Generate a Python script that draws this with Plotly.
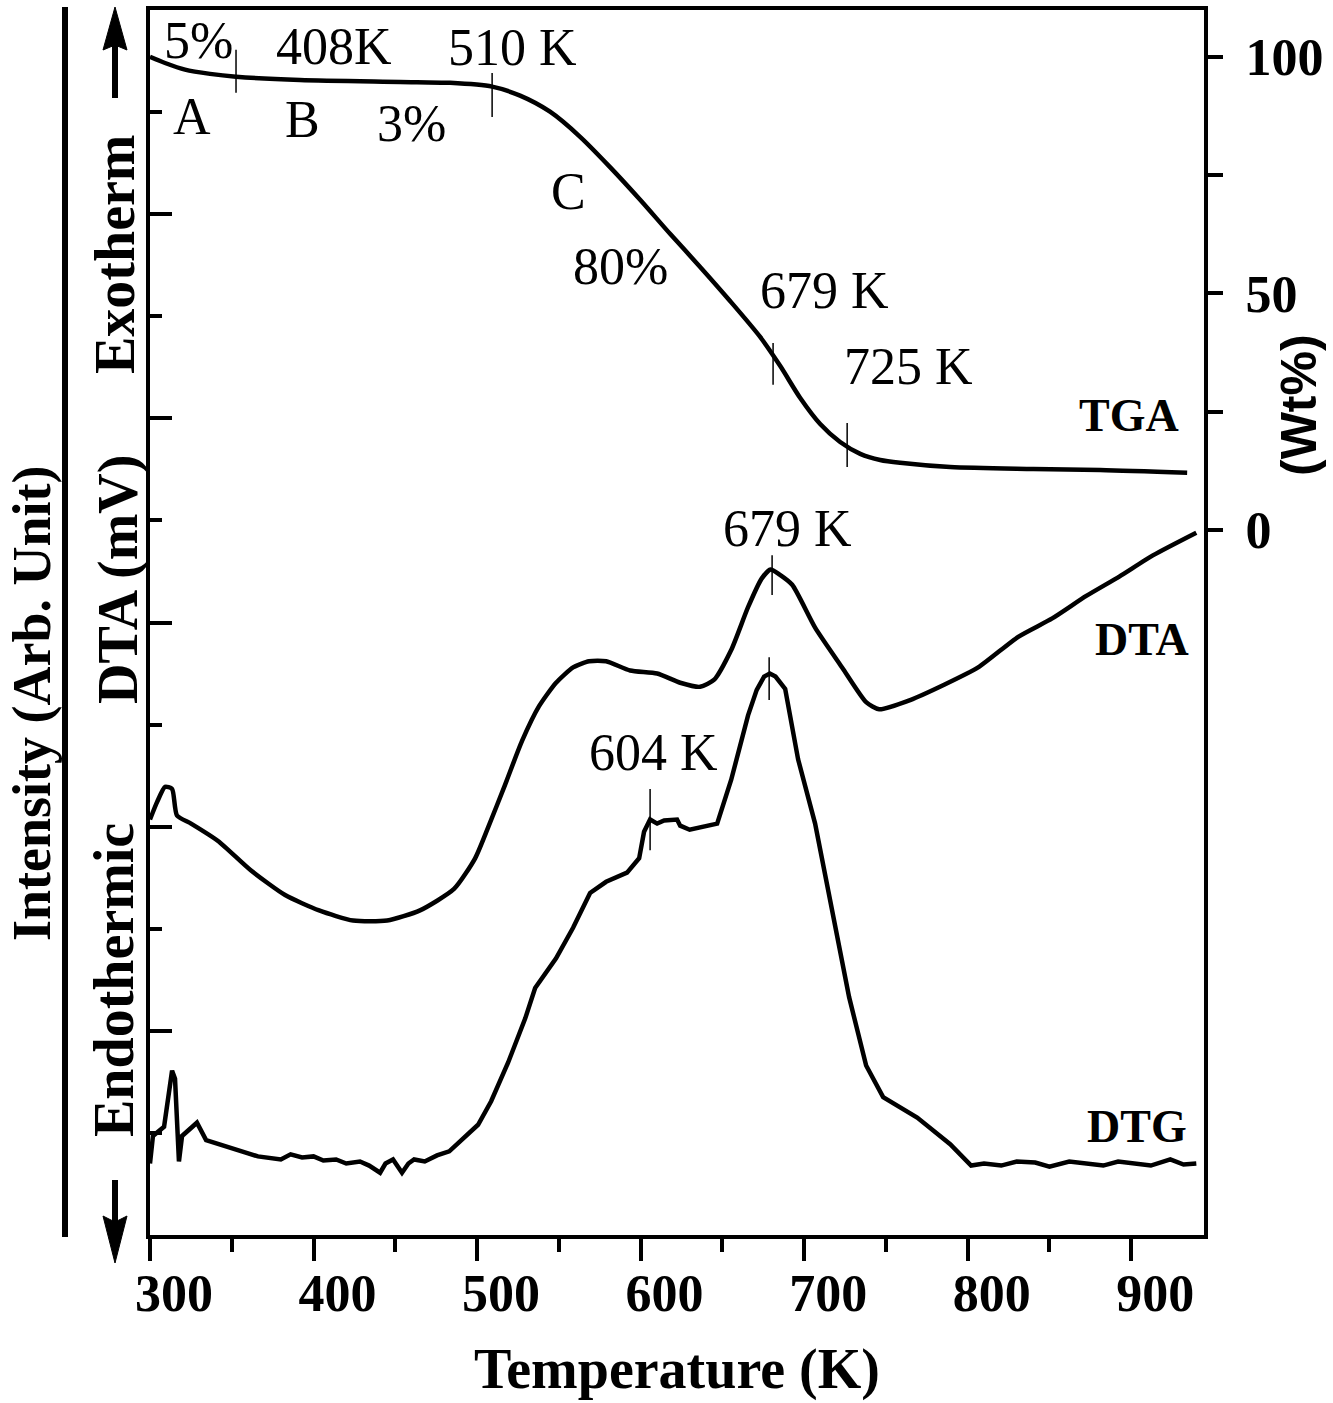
import plotly.graph_objects as go

# ---------------- data ----------------
tga_T = [300.0, 309.2, 321.4, 336.7, 352.6, 391.7, 452.9, 483.5, 509.2, 526.3, 544.6,
         563.0, 581.3, 599.7, 618.0, 636.4, 654.7, 673.1, 685.3, 697.6, 709.8, 722.0,
         734.3, 746.5, 758.7, 789.3, 840.1, 881.0, 934.2]
tga_wt = [100.0, 98.7, 97.3, 96.4, 95.8, 95.1, 94.7, 94.5, 93.7, 91.8, 88.4,
          83.1, 76.7, 69.8, 62.6, 55.6, 48.4, 40.8, 34.7, 27.9, 22.4, 18.6,
          16.1, 14.8, 14.2, 13.3, 12.9, 12.7, 12.1]

dta_T = [300.0, 304.3, 309.2, 313.5, 316.5, 325.1, 341.6, 361.8, 382.6, 403.4, 424.2,
         445.0, 465.1, 485.9, 498.8, 506.7, 517.1, 527.5, 537.9, 548.3, 558.7, 568.5,
         578.9, 593.6, 610.1, 624.2, 636.4, 645.0, 655.4, 665.7, 674.0, 679.5, 685.0,
         692.7, 706.7, 723.2, 737.9, 745.9, 764.8, 785.6, 806.4, 830.9, 851.7, 872.5,
         892.7, 913.5, 939.8]
dta_v = [4.07, 4.24, 4.39, 4.37, 4.11, 4.03, 3.86, 3.57, 3.33, 3.18, 3.08,
         3.08, 3.18, 3.39, 3.69, 3.99, 4.41, 4.84, 5.18, 5.41, 5.56, 5.62,
         5.62, 5.53, 5.50, 5.41, 5.37, 5.44, 5.73, 6.15, 6.43, 6.52, 6.47,
         6.37, 5.95, 5.56, 5.22, 5.15, 5.24, 5.39, 5.56, 5.86, 6.04, 6.26,
         6.45, 6.66, 6.88]

dtg_T = [300.0, 301.8, 308.6, 313.5, 315.3, 317.7, 319.6, 328.7, 334.3, 345.0, 352.0,
         360.0, 366.0, 372.2, 380.0, 386.0, 393.0, 400.0, 406.0, 413.8, 420.0, 428.4,
         434.0, 440.7, 444.0, 448.6, 454.1, 458.0, 461.5, 468.0, 475.5, 483.0, 490.2,
         500.6, 508.6, 519.0, 529.4, 535.5, 548.3, 558.7, 569.1, 578.9, 591.7, 599.1,
         602.1, 605.8, 610.1, 614.4, 622.3, 624.2, 630.0, 636.4, 646.8, 655.4, 665.7,
         671.0, 675.5, 679.0, 682.5, 688.4, 696.3, 706.7, 717.1, 727.5, 737.9, 748.3,
         769.1, 789.3, 802.1, 810.0, 820.5, 830.0, 841.3, 850.0, 862.1, 872.0, 882.9,
         892.0, 903.1, 912.0, 923.9, 932.0, 939.8]
dtg_v = [0.70, 0.97, 1.06, 1.61, 1.53, 0.72, 0.97, 1.10, 0.93, 0.88, 0.84,
         0.80, 0.77, 0.76, 0.74, 0.79, 0.76, 0.77, 0.73, 0.74, 0.70, 0.72,
         0.68, 0.61, 0.70, 0.74, 0.61, 0.70, 0.74, 0.72, 0.78, 0.82, 0.93,
         1.08, 1.31, 1.69, 2.12, 2.42, 2.71, 3.01, 3.35, 3.46, 3.55, 3.69,
         3.95, 4.07, 4.03, 4.06, 4.07, 4.01, 3.97, 3.99, 4.03, 4.46, 5.09,
         5.34, 5.47, 5.50, 5.47, 5.35, 4.66, 4.03, 3.18, 2.33, 1.66, 1.35,
         1.15, 0.89, 0.68, 0.70, 0.68, 0.72, 0.71, 0.67, 0.72, 0.70, 0.68,
         0.72, 0.70, 0.68, 0.74, 0.69, 0.70]

x_ticks = [300, 400, 500, 600, 700, 800, 900]
wt_ticks = [0, 25, 50, 75, 100]
wt_labels = ["0", "", "50", "", "100"]

# marker tick lines: (T, y_from, y_to, axis)
markers = [(352.6, 101.5, 92.4, "y2"), (509.2, 96.6, 87.3, "y2"),
           (681.0, 39.5, 30.7, "y2"), (726.3, 22.6, 13.3, "y2"),
           (680.4, 6.66, 6.27, "y"), (678.6, 5.66, 5.24, "y"),
           (605.8, 4.37, 3.77, "y")]

# text labels: (text, T, y, axis)
labels = [("5%", 329.4, 103.4, "y2"), ("408K", 412.5, 102.1, "y2"),
          ("510 K", 521.4, 101.9, "y2"), ("A", 325.7, 87.3, "y2"),
          ("B", 393.0, 86.7, "y2"), ("3%", 459.6, 86.0, "y2"),
          ("C", 555.7, 71.5, "y2"), ("80%", 587.5, 55.6, "y2"),
          ("679 K", 712.2, 50.7, "y2"), ("725 K", 763.6, 34.5, "y2"),
          ("679 K", 689.6, 6.92, "y"), ("604 K", 607.6, 4.73, "y")]
curve_names = [("TGA", 898.8, 24.1, "y2"), ("DTA", 906.7, 5.83, "y"),
               ("DTG", 903.7, 1.06, "y")]

SERIF = "Liberation Serif"
SANS = "Liberation Sans"

W, H = 1333, 1403
L, R, T, B = 150, 1204, 10, 1235


def px(xp):
    return (xp - L) / (R - L)


def py(yp):
    return (B - yp) / (B - T)


fig = go.Figure()
fig.add_trace(go.Scatter(x=tga_T, y=tga_wt, yaxis="y2", mode="lines",
                         line=dict(color="black", width=4.5, shape="spline", smoothing=0.8)))
fig.add_trace(go.Scatter(x=dta_T, y=dta_v, mode="lines",
                         line=dict(color="black", width=4.5, shape="spline", smoothing=0.6)))
fig.add_trace(go.Scatter(x=dtg_T, y=dtg_v, mode="lines",
                         line=dict(color="black", width=4.5)))

shapes = []
for t, y0, y1, ax in markers:
    shapes.append(dict(type="line", xref="x", yref=ax, x0=t, x1=t, y0=y0, y1=y1,
                       line=dict(color="black", width=1.5)))

# outer vertical line
shapes.append(dict(type="line", xref="paper", yref="paper", x0=px(65), x1=px(65),
                   y0=py(7), y1=py(1237), line=dict(color="black", width=6)))
# up arrow
shapes.append(dict(type="line", xref="paper", yref="paper", x0=px(115), x1=px(115),
                   y0=py(98), y1=py(40), line=dict(color="black", width=6)))
shapes.append(dict(type="path", xref="paper", yref="paper",
                   path=f"M {px(115)} {py(7)} L {px(103)} {py(50)} L {px(115)} {py(45)} L {px(127)} {py(50)} Z",
                   fillcolor="black", line=dict(color="black", width=1)))
# down arrow
shapes.append(dict(type="line", xref="paper", yref="paper", x0=px(115), x1=px(115),
                   y0=py(1180), y1=py(1225), line=dict(color="black", width=6)))
shapes.append(dict(type="path", xref="paper", yref="paper",
                   path=f"M {px(115)} {py(1263)} L {px(103)} {py(1216)} L {px(115)} {py(1222)} L {px(127)} {py(1216)} Z",
                   fillcolor="black", line=dict(color="black", width=1)))

annotations = []
for txt, t, y, ax in labels:
    annotations.append(dict(text=txt, x=t, y=y, xref="x", yref=ax, showarrow=False,
                            xanchor="center", yanchor="middle",
                            font=dict(family=SERIF, size=52, color="black")))
for txt, t, y, ax in curve_names:
    annotations.append(dict(text=txt, x=t, y=y, xref="x", yref=ax, showarrow=False,
                            xanchor="center", yanchor="middle",
                            font=dict(family=SERIF, size=46, color="black", weight="bold")))

side_titles = [("Exotherm", 115, 254, 56), ("DTA (mV)", 118, 580, 56),
               ("Endothermic", 114, 980, 56), ("Intensity (Arb. Unit)", 32, 703, 54)]
for txt, xp, yp, fs in side_titles:
    annotations.append(dict(text=txt, x=px(xp), y=py(yp), xref="paper", yref="paper",
                            showarrow=False, textangle=-90, xanchor="center", yanchor="middle",
                            font=dict(family=SERIF, size=fs, color="black", weight="bold")))
# right axis title
annotations.append(dict(text="(Wt%)", x=px(1299), y=py(405), xref="paper", yref="paper",
                        showarrow=False, textangle=-90, xanchor="center", yanchor="middle",
                        font=dict(family=SANS, size=50, color="black", weight="bold")))

fig.update_layout(
    width=W, height=H,
    margin=dict(l=L, r=W - R, t=T, b=H - B, pad=0, autoexpand=False),
    paper_bgcolor="white", plot_bgcolor="white",
    showlegend=False,
    shapes=shapes, annotations=annotations,
    xaxis=dict(range=[300, 944.5], showline=True, linewidth=4, linecolor="black", mirror=True,
               automargin=False,
               ticks="outside", ticklen=22, tickwidth=4, tickcolor="black",
               tickvals=x_ticks, ticklabelshift=24, ticklabelstandoff=-12,
               minor=dict(dtick=50, tick0=0, ticks="outside", ticklen=13, tickwidth=4,
                          tickcolor="black"),
               tickfont=dict(family=SERIF, size=52, color="black", weight="bold"),
               showgrid=False, zeroline=False,
               title=dict(text="Temperature (K)", standoff=28,
                          font=dict(family=SERIF, size=56, color="black", weight="bold"))),
    yaxis=dict(range=[0, 12], showline=True, linewidth=4, linecolor="black", mirror=True,
               automargin=False,
               ticks="inside", ticklen=22, tickwidth=4, tickcolor="black", dtick=2, tick0=0,
               minor=dict(dtick=1, tick0=0, ticks="inside", ticklen=12, tickwidth=4,
                          tickcolor="black"),
               showticklabels=False, showgrid=False, zeroline=False),
    yaxis2=dict(range=[-149, 109.9], overlaying="y", side="right", showline=True,
                automargin=False,
                linewidth=4, linecolor="black", ticks="outside", ticklen=15, tickwidth=4,
                tickcolor="black", tickvals=wt_ticks, ticktext=wt_labels,
                ticklabelstandoff=12,
                tickfont=dict(family=SERIF, size=52, color="black", weight="bold"),
                showgrid=False, zeroline=False),
)

fig.write_html("out.html")
